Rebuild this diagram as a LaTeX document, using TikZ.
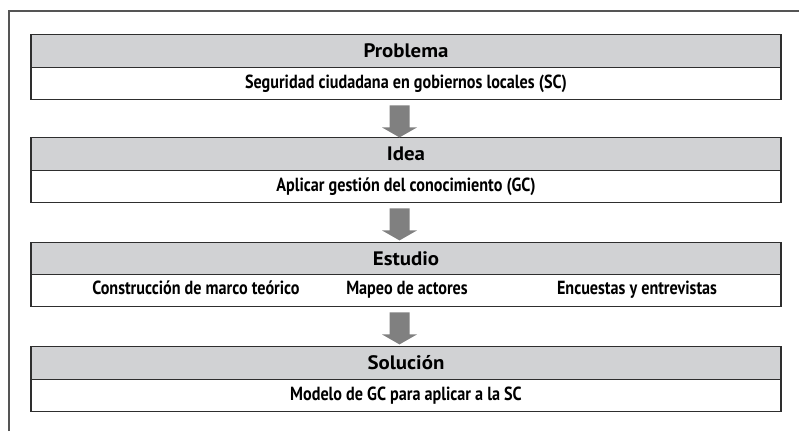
\documentclass[tikz,border=0pt]{standalone}
\usepackage{fontspec}
\setmainfont{PT Sans}
\newfontfamily\hdrfont{PT Sans}[FakeStretch=1.07]
\newfontfamily\rowfont{PT Sans}[FakeStretch=0.85]
\usetikzlibrary{calc}
\definecolor{hdrgray}{HTML}{D1D2D4}
\definecolor{arrgray}{HTML}{808080}
\definecolor{linedark}{HTML}{2E2E2E}
\definecolor{framegray}{HTML}{555555}
\tikzset{
  hdr/.style={draw=linedark, line width=1.4pt, fill=hdrgray, minimum width=750pt,
    minimum height=33pt, inner sep=0pt, anchor=north,
    font=\fontsize{19.5}{22}\hdrfont\bfseries, text height=16pt, text depth=3.6pt},
  rowbox/.style={draw=linedark, line width=1.4pt, fill=white, minimum width=750pt,
    minimum height=32pt, inner sep=0pt, anchor=north,
    font=\fontsize{19}{22}\rowfont\bfseries, text height=14.6pt, text depth=5pt},
  rowtxt/.style={inner sep=0pt, font=\fontsize{19}{22}\rowfont\bfseries, text height=14.6pt, text depth=5pt},
  blockarrow/.style={fill=arrgray, draw=none},
  frame/.style={draw=framegray, line width=1.3pt}
}
\newcommand{\blockarr}[1]{%
  \fill[blockarrow] ($(#1.south)+(-16.5,5)$) -- ($(#1.south)+(3.5,5)$)
    -- ($(#1.south)+(3.5,27)$) -- ($(#1.south)+(11,27)$)
    -- ($(#1.south)+(-6.5,37)$) -- ($(#1.south)+(-24,27)$)
    -- ($(#1.south)+(-16.5,27)$) -- cycle;}
\begin{document}
\begin{tikzpicture}[x=1pt,y=-1pt]
\useasboundingbox (0,0) rectangle (799,431);
\draw[frame] (9,431) -- (9,11) -- (799,11);

\node[hdr] (h1) at (406,34) {Problema};
\node[rowbox] (r1) at (406,67) {Seguridad ciudadana en gobiernos locales (SC)};

\node[hdr] (h2) at (406,137) {Idea};
\node[rowbox] (r2) at (406,170) {Aplicar gestión del conocimiento (GC)};

\node[hdr] (h3) at (406,242) {Estudio};
\node[rowbox] (r3) at (406,274) {};
\node[rowtxt] (t31) at (196,290) {Construcción de marco teórico};
\node[rowtxt] (t32) at (407,290) {Mapeo de actores};
\node[rowtxt] (t33) at (637,290) {Encuestas y entrevistas};

\node[hdr] (h4) at (406,346) {Solución};
\node[rowbox] (r4) at (406,379) {Modelo de GC para aplicar a la SC};

\blockarr{r1}
\blockarr{r2}
\blockarr{r3}
\end{tikzpicture}
\end{document}
